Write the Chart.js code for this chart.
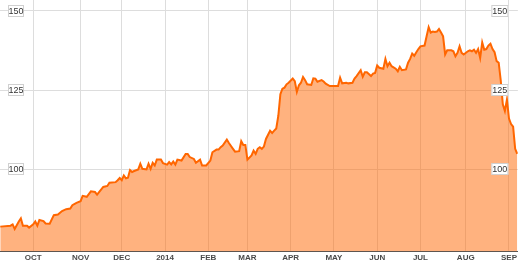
<!DOCTYPE html>
<html>
<head>
<meta charset="utf-8">
<script src="https://cdn.jsdelivr.net/npm/chart.js@4.4.1/dist/chart.umd.min.js"></script>
<style>
html,body{margin:0;padding:0;background:#fff;}
#c{display:block;}
</style>
</head>
<body>
<canvas id="c" width="519" height="265"></canvas>
<script>
// Trading-day index (0 = first trading day of Oct 2013)
const dayIndex = [-16,-11,-10,-9,-7,-6,-5,-3,-2,0,1,2,3,5,6,8,10,12,14,16,18,19,21,23,24,26,28,30,31,34,36,37,40,41,42,43,44,45,46,47,48,49,51,52,53,55,56,57,58,59,60,62,63,65,66,67,68,69,70,72,74,75,76,78,79,81,82,84,86,87,89,90,91,92,94,95,97,98,100,101,102,103,104,106,107,108,109,110,111,112,113,115,116,117,118,119,120,121,122,123,124,126,127,128,129,130,131,132,133,135,136,137,138,140,141,142,144,146,148,149,150,152,153,155,156,157,159,160,161,162,164,165,166,167,168,170,171,172,173,174,176,177,178,179,181,182,183,184,185,186,187,188,190,191,192,193,194,195,196,197,198,199,200,201,203,204,205,206,207,208,209,211,212,213,214,215,216,217,218,219,220,221,222,223,224,225,226,227,228,229,230,231,232,233,234,235];
const price = [82.0,82.3,82.7,81.25,83.6,84.6,82.3,82.3,81.7,82.7,83.6,82.3,84.1,83.75,83.0,82.9,85.6,85.8,86.9,87.5,87.7,88.75,89.5,90.0,91.7,91.4,93.1,92.9,92.1,94.5,94.8,95.8,96.0,96.6,97.3,96.6,98.1,97.2,97.4,99.8,99.2,99.5,100.0,101.8,100.2,100.0,101.8,100.2,102.1,101.25,103.1,103.1,102.0,101.5,102.3,101.6,102.5,101.5,103.1,102.8,104.9,104.9,103.9,103.3,102.1,103.1,101.25,101.25,102.8,105.4,106.25,106.25,107.0,107.5,109.4,108.3,106.5,105.6,105.75,108.9,107.7,107.7,103.1,104.4,105.9,104.9,106.5,107.0,106.5,107.2,109.6,112.2,111.5,112.2,112.9,116.9,123.7,125.4,125.75,126.8,127.3,128.6,127.8,124.4,126.5,127.3,129.1,128.1,126.8,126.6,128.7,128.6,127.6,128.1,127.7,127.0,126.25,126.25,126.25,128.9,127.1,127.3,127.1,127.3,128.6,129.4,131.25,129.2,130.6,130.6,129.4,130.2,130.4,132.7,132.0,131.7,134.8,132.5,133.6,132.5,131.7,130.9,132.3,131.25,131.5,133.6,134.8,136.5,135.8,136.9,137.9,138.75,139.0,141.9,144.8,143.1,143.4,143.25,143.4,144.2,143.1,141.9,136.2,137.5,137.5,137.2,135.6,136.7,138.75,136.7,136.2,137.2,137.5,137.2,137.7,136.7,137.9,135.1,140.0,137.7,137.9,139.0,139.6,137.9,136.9,134.1,133.6,128.0,120.5,118.4,122.0,116.0,114.3,113.5,106.5,104.9];

const monthTickIdx = [0,23,43,64,85,104,125,146,167,188,210,231];
const monthLabels = ['OCT','NOV','DEC','2014','FEB','MAR','APR','MAY','JUN','JUL','AUG','SEP'];
const yTicks = [100,125,150];

const points = dayIndex.map((d,i)=>({x:d, y:price[i]}));

const yLabelPlugin = {
  id:'yLabels',
  afterDatasetsDraw(chart){
    const ctx = chart.ctx, ys = chart.scales.y, area = chart.chartArea;
    ctx.save();
    ctx.font = '9px "Liberation Sans", Arial, sans-serif';
    ctx.textAlign = 'center';
    ctx.textBaseline = 'middle';
    yTicks.forEach(v=>{
      const py = Math.round(ys.getPixelForValue(v));
      [[8, 24], [area.right-26.5, area.right-9.5]].forEach(([x0,x1])=>{
        ctx.fillStyle = '#fff';
        ctx.fillRect(x0, py-5.5, x1-x0, 11);
        ctx.strokeStyle = '#d0d0d0';
        ctx.lineWidth = 1;
        ctx.strokeRect(x0+0.5, py-5.5, x1-x0-1, 11);
        ctx.fillStyle = '#333';
        ctx.fillText(String(v), (x0+x1)/2, py+0.5);
      });
    });
    ctx.restore();
  }
};

new Chart(document.getElementById('c'), {
  type:'line',
  data:{ datasets:[{
    data: points,
    borderColor:'#ff6600',
    borderWidth:2,
    backgroundColor:'rgba(255,102,0,0.5)',
    fill:'start',
    pointRadius:0,
    tension:0
  }]},
  options:{
    responsive:false,
    animation:false,
    devicePixelRatio:1,
    layout:{padding:0},
    plugins:{legend:{display:false}, tooltip:{enabled:false}},
    scales:{
      x:{
        type:'linear',
        min:-16.13, max:235.3,
        afterBuildTicks(s){ s.ticks = monthTickIdx.map(v=>({value:v})); },
        ticks:{
          autoSkip:false, maxRotation:0, padding:2,
          color:'#4a4a4a',
          font:{family:'"Liberation Sans", Arial, sans-serif', size:8, weight:'bold'},
          callback(v){ const i = monthTickIdx.indexOf(v); return i>=0 ? monthLabels[i] : ''; }
        },
        grid:{color:'#dddddd', lineWidth:1, drawTicks:false},
        border:{display:true, color:'#555', width:1}
      },
      y:{
        type:'linear',
        min:74.2, max:153.34,
        afterBuildTicks(s){ s.ticks = yTicks.map(v=>({value:v})); },
        ticks:{display:false},
        grid:{color:'#dddddd', lineWidth:1, drawTicks:false},
        border:{display:false}
      }
    }
  },
  plugins:[yLabelPlugin]
});
</script>
</body>
</html>
